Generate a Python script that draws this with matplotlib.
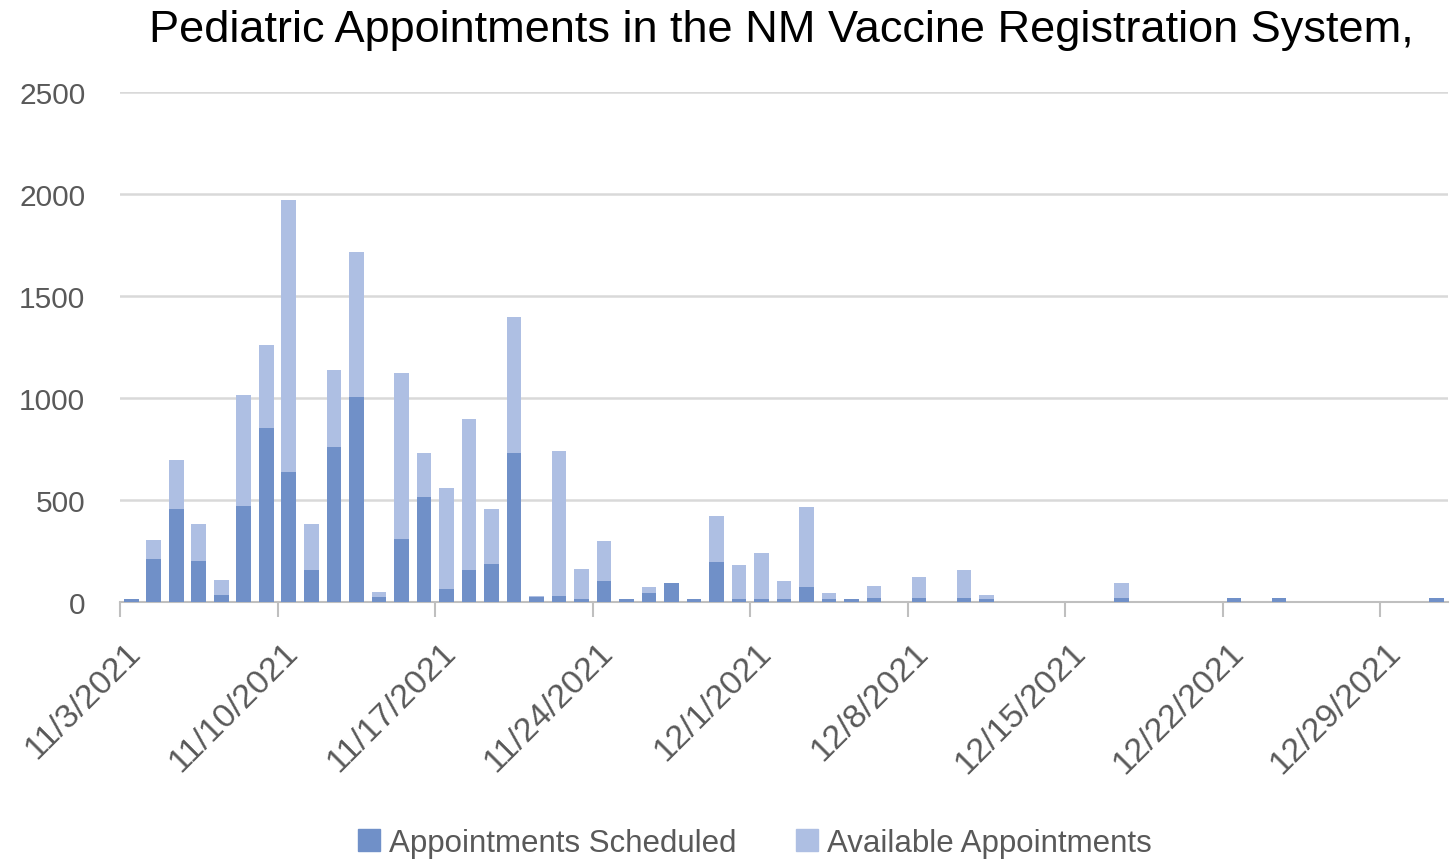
import datetime as dt
import matplotlib
matplotlib.use("Agg")
import matplotlib.pyplot as plt
import matplotlib.dates as mdates
from matplotlib.transforms import ScaledTranslation
from matplotlib.patches import Patch

# Daily values, 11/3/2021 .. 12/31/2021
start = dt.date(2021, 11, 3)
available = [15, 306, 697, 380, 107, 1016, 1262, 1973, 380, 1139,
             1718, 49, 1123, 728, 560, 895, 456, 1395, 28, 739,
             164, 300, 13, 75, 92, 13, 423, 180, 239, 103,
             467, 46, 16, 77, 0, 124, 0, 157, 33, 0,
             0, 0, 0, 0, 91, 0, 0, 0, 0, 20,
             0, 20, 0, 0, 0, 0, 0, 0, 20]
scheduled = [13, 213, 456, 200, 33, 472, 852, 639, 156, 762,
             1005, 23, 308, 515, 64, 155, 184, 729, 22, 30,
             16, 103, 13, 46, 92, 13, 197, 16, 16, 16,
             75, 16, 16, 18, 0, 18, 0, 18, 15, 0,
             0, 0, 0, 0, 18, 0, 0, 0, 0, 20,
             0, 20, 0, 0, 0, 0, 0, 0, 20]
dates = [start + dt.timedelta(days=i) for i in range(len(available))]
tick_dates = [start + dt.timedelta(days=7 * i) for i in range(9)]
tick_labels = [f"{d.month}/{d.day}/{d.year}" for d in tick_dates]
yticks = [0, 500, 1000, 1500, 2000, 2500]

dark = "#7090C8"
light = "#AEBFE3"
grey_text = "#595959"

plt.rcParams["font.family"] = ["Liberation Sans", "DejaVu Sans"]

fig = plt.figure(figsize=(14.55, 8.62), dpi=100)
ax = fig.add_axes([0.0825, 0.3005, 0.9125, 0.5915])

x = [mdates.date2num(d) + 0.5 for d in dates]
ax.bar(x, available, width=0.65, color=light, zorder=2)
ax.bar(x, scheduled, width=0.65, color=dark, zorder=3)

ax.set_xlim(mdates.date2num(start), mdates.date2num(start) + 59)
ax.set_ylim(0, 2500)
ax.set_yticks(yticks)
ax.set_yticklabels([str(v) for v in yticks], fontsize=21.5, color=grey_text)
ax.tick_params(axis="y", length=0, pad=25)
ax.grid(axis="y", color="#D9D9D9", linewidth=1.8, zorder=0)

ax.set_xticks([mdates.date2num(d) for d in tick_dates])
ax.set_xticklabels(tick_labels, rotation=45, ha="right", va="center",
                   rotation_mode="anchor", fontsize=24.5, color=grey_text)
ax.tick_params(axis="x", length=11, width=1.5, color="#BFBFBF", pad=6)
offset = ScaledTranslation(16 / 100, -22 / 100, fig.dpi_scale_trans)
for lab in ax.get_xticklabels():
    lab.set_transform(lab.get_transform() + offset)

for side in ["top", "right", "left"]:
    ax.spines[side].set_visible(False)
ax.spines["bottom"].set_color("#BFBFBF")
ax.spines["bottom"].set_linewidth(1.5)

fig.text(0.537, 0.965, "Pediatric Appointments in the NM Vaccine Registration System,",
         ha="center", va="center", fontsize=32.5, color="black")

handles = [Patch(color=dark), Patch(color=light)]
fig.legend(handles, ["Appointments Scheduled", "Available Appointments"],
           loc="center", bbox_to_anchor=(0.519, 0.021), ncol=2,
           frameon=False, fontsize=22.5, labelcolor=grey_text,
           handlelength=0.7, handleheight=0.7, handletextpad=0.3, columnspacing=1.9)

fig.savefig("out.png", dpi=100)
